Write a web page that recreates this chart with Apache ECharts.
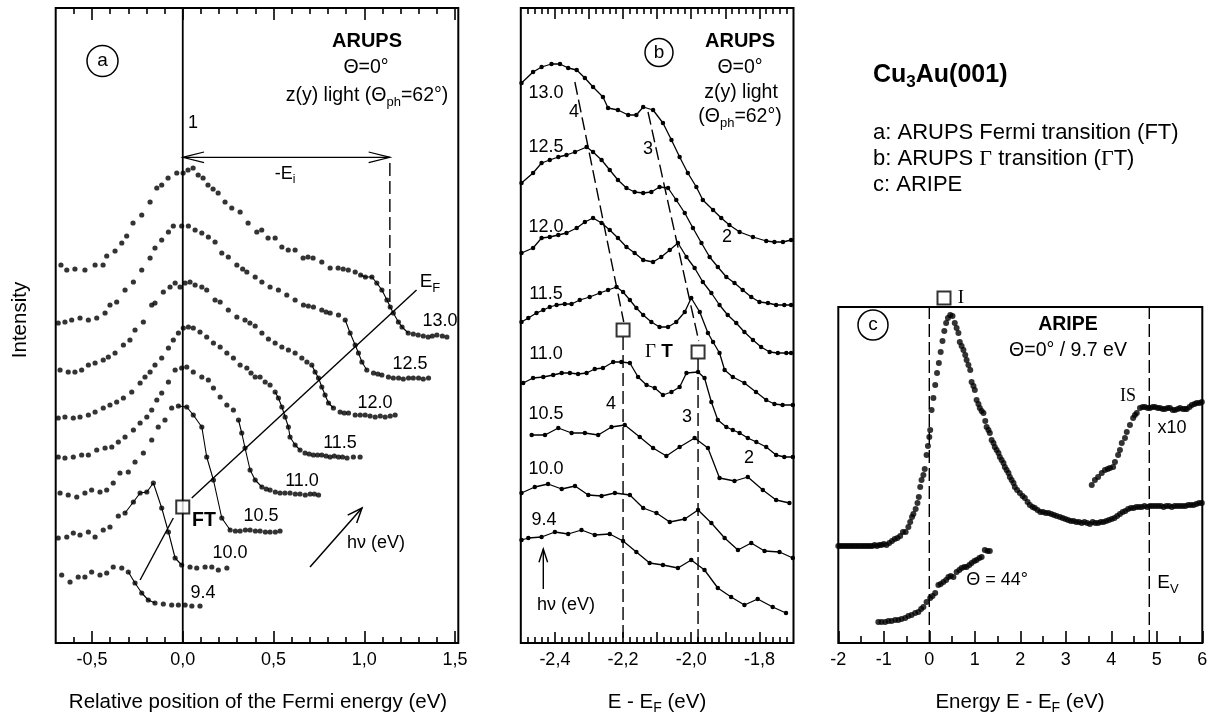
<!DOCTYPE html>
<html><head><meta charset="utf-8">
<script src="https://cdn.jsdelivr.net/npm/echarts@6/dist/echarts.min.js"></script>
<style>html,body{margin:0;padding:0;background:#fff}#c{width:1211px;height:719px}</style>
</head><body><div id="c"></div>
<script>
// ---------------- DATA ----------------
// Panel (a): ARUPS Fermi transition, x = relative position of Fermi energy (eV), y = intensity (arb.)
const aLabels = ['13.0','12.5','12.0','11.5','11.0','10.5','10.0','9.4'];
const a130 = [[-0.671,378],[-0.639,373],[-0.594,374],[-0.539,373],[-0.483,378],[-0.439,378],[-0.419,387],[-0.373,392],[-0.336,400],[-0.309,407],[-0.274,420],[-0.226,428],[-0.180,441],[-0.143,455],[-0.116,458],[-0.081,465],[-0.033,470],[0.002,470],[0.029,473],[0.057,475],[0.085,468],[0.112,465],[0.139,458],[0.167,454],[0.195,450],[0.233,441],[0.270,435],[0.316,431],[0.360,420],[0.408,411],[0.435,413],[0.470,405],[0.509,405],[0.546,396],[0.581,393],[0.619,393],[0.663,385],[0.690,386],[0.718,385],[0.766,381],[0.812,375],[0.856,375],[0.884,374],[0.912,373],[0.950,371],[0.980,368],[1.006,366],[1.042,366],[1.069,360],[1.097,353],[1.125,343],[1.143,336],[1.160,330],[1.188,321],[1.208,316],[1.242,310],[1.270,309],[1.297,308],[1.325,307],[1.352,306],[1.375,307],[1.400,308],[1.430,307],[1.455,306]];
const a125 = [[-0.686,320],[-0.649,321],[-0.612,323],[-0.566,325],[-0.520,323],[-0.474,325],[-0.428,330],[-0.401,338],[-0.364,341],[-0.318,353],[-0.272,361],[-0.226,373],[-0.180,385],[-0.153,395],[-0.116,403],[-0.079,411],[-0.052,417],[-0.006,417],[0.031,417],[0.068,413],[0.105,410],[0.141,406],[0.178,401],[0.215,390],[0.251,386],[0.298,378],[0.330,374],[0.353,371],[0.399,366],[0.436,361],[0.481,356],[0.527,353],[0.573,348],[0.619,343],[0.665,338],[0.692,337],[0.720,336],[0.766,333],[0.790,331],[0.812,330],[0.858,328],[0.895,323],[0.922,310],[0.950,298],[0.968,290],[0.987,281],[1.014,273],[1.051,270],[1.075,269],[1.097,268],[1.133,266],[1.160,265],[1.189,265],[1.215,264],[1.244,265],[1.270,265],[1.299,265],[1.325,264],[1.354,265]];
const a120 = [[-0.676,273],[-0.631,271],[-0.594,271],[-0.557,273],[-0.520,278],[-0.483,280],[-0.438,283],[-0.410,286],[-0.373,290],[-0.327,298],[-0.291,303],[-0.263,313],[-0.217,321],[-0.171,338],[-0.153,340],[-0.107,351],[-0.070,356],[-0.042,360],[-0.015,356],[0.013,360],[0.040,361],[0.068,358],[0.105,356],[0.132,353],[0.178,343],[0.206,341],[0.251,333],[0.298,326],[0.343,323],[0.370,320],[0.399,317],[0.436,310],[0.472,304],[0.509,300],[0.546,296],[0.582,293],[0.619,290],[0.656,285],[0.684,281],[0.711,278],[0.729,271],[0.748,265],[0.766,256],[0.784,248],[0.803,240],[0.830,235],[0.867,231],[0.890,230],[0.913,230],[0.950,228],[0.978,228],[1.005,228],[1.032,227],[1.060,226],[1.088,227],[1.115,226],[1.143,227],[1.170,228]];
const a115 = [[-0.686,225],[-0.649,226],[-0.603,225],[-0.566,226],[-0.520,228],[-0.483,231],[-0.438,235],[-0.401,238],[-0.364,241],[-0.327,245],[-0.281,251],[-0.235,260],[-0.208,266],[-0.180,271],[-0.153,278],[-0.116,285],[-0.079,295],[-0.052,303],[-0.024,310],[0.003,315],[0.031,316],[0.058,315],[0.095,311],[0.132,306],[0.169,300],[0.206,296],[0.243,290],[0.279,285],[0.316,278],[0.353,275],[0.376,270],[0.399,266],[0.426,266],[0.454,261],[0.481,258],[0.509,251],[0.527,245],[0.546,236],[0.564,226],[0.582,216],[0.591,206],[0.619,198],[0.646,193],[0.674,190],[0.697,189],[0.720,188],[0.743,188],[0.766,188],[0.790,187],[0.812,186],[0.835,187],[0.858,186],[0.880,186],[0.905,185],[0.940,186],[0.977,186]];
const a110 = [[-0.686,186],[-0.649,185],[-0.603,186],[-0.557,188],[-0.520,188],[-0.474,193],[-0.428,195],[-0.391,196],[-0.355,201],[-0.318,206],[-0.272,213],[-0.235,220],[-0.198,226],[-0.171,233],[-0.143,243],[-0.116,250],[-0.079,261],[-0.042,273],[-0.006,275],[0.022,276],[0.058,271],[0.105,266],[0.141,263],[0.169,255],[0.206,246],[0.243,238],[0.279,233],[0.307,223],[0.325,210],[0.343,195],[0.371,173],[0.399,163],[0.436,156],[0.460,154],[0.481,153],[0.510,151],[0.536,150],[0.563,150],[0.591,150],[0.620,149],[0.646,149],[0.675,148],[0.702,149],[0.725,149],[0.748,148]];
const a105 = [[-0.676,150],[-0.631,148],[-0.584,146],[-0.539,150],[-0.502,153],[-0.456,151],[-0.419,153],[-0.383,160],[-0.346,170],[-0.300,171],[-0.263,181],[-0.217,190],[-0.171,203],[-0.135,216],[-0.098,223],[-0.061,235],[-0.024,237],[0.022,236],[0.058,228],[0.105,216],[0.132,186],[0.169,163],[0.215,125],[0.261,113],[0.290,112],[0.316,112],[0.345,113],[0.371,113],[0.400,112],[0.426,112],[0.455,111],[0.481,111],[0.510,111],[0.536,112]];
const a100 = [[-0.686,105],[-0.639,106],[-0.603,110],[-0.566,108],[-0.520,111],[-0.483,106],[-0.438,113],[-0.401,116],[-0.355,127],[-0.318,130],[-0.272,141],[-0.235,150],[-0.198,151],[-0.162,160],[-0.116,135],[-0.079,111],[-0.042,85],[-0.006,78],[0.040,76],[0.077,75],[0.123,76],[0.160,76],[0.196,73],[0.243,75]];
const a94 = [[-0.667,68],[-0.621,61],[-0.576,66],[-0.539,66],[-0.502,71],[-0.456,68],[-0.419,70],[-0.383,76],[-0.336,75],[-0.300,71],[-0.263,60],[-0.226,50],[-0.190,43],[-0.153,40],[-0.107,39],[-0.061,38],[-0.024,38],[0.013,38],[0.050,37],[0.095,37]];
const aCurves = [a130,a125,a120,a115,a110,a105,a100,a94];
// energy ranges where the Fermi edge dots are joined by a line
const aEdgeRanges = [[0.98,1.25],[0.87,1.03],[0.70,0.84],[0.50,0.65],[0.28,0.44],[-0.03,0.27],[-0.33,0.0],[-0.31,-0.15]];

// Panel (b): ARUPS Gamma transition, x = E - EF (eV)
const bLabels = ['13.0','12.5','12.0','11.5','11.0','10.5','10.0','9.4'];
const b130 = [[-2.498,560],[-2.464,571],[-2.439,576],[-2.410,579],[-2.385,579],[-2.361,575],[-2.336,573],[-2.312,565],[-2.288,556],[-2.259,546],[-2.244,535],[-2.215,533],[-2.185,528],[-2.161,528],[-2.141,536],[-2.112,533],[-2.083,520],[-2.058,503],[-2.034,486],[-2.010,470],[-1.985,456],[-1.966,443],[-1.936,433],[-1.912,425],[-1.888,418],[-1.858,411],[-1.819,406],[-1.780,402],[-1.756,401],[-1.731,401],[-1.707,403]];
const b125 = [[-2.498,460],[-2.464,470],[-2.439,480],[-2.415,483],[-2.390,486],[-2.366,488],[-2.341,491],[-2.307,496],[-2.288,491],[-2.263,483],[-2.239,473],[-2.215,463],[-2.190,455],[-2.166,451],[-2.141,450],[-2.117,451],[-2.093,456],[-2.068,455],[-2.044,443],[-2.019,430],[-1.995,415],[-1.970,400],[-1.946,386],[-1.922,376],[-1.897,366],[-1.873,360],[-1.849,353],[-1.824,346],[-1.800,341],[-1.775,340],[-1.751,338],[-1.727,338],[-1.707,338]];
const b120 = [[-2.498,390],[-2.464,395],[-2.439,405],[-2.415,406],[-2.390,408],[-2.366,410],[-2.336,415],[-2.312,421],[-2.288,425],[-2.263,420],[-2.239,413],[-2.215,405],[-2.190,396],[-2.166,390],[-2.141,383],[-2.112,381],[-2.088,386],[-2.063,393],[-2.039,400],[-2.014,386],[-1.990,375],[-1.966,361],[-1.941,350],[-1.917,338],[-1.893,328],[-1.868,320],[-1.844,311],[-1.819,303],[-1.795,296],[-1.770,291],[-1.746,290],[-1.721,290],[-1.707,290]];
const b115 = [[-2.498,321],[-2.478,325],[-2.454,330],[-2.434,333],[-2.415,336],[-2.395,338],[-2.371,339],[-2.351,339],[-2.327,343],[-2.298,346],[-2.268,350],[-2.244,353],[-2.219,356],[-2.200,351],[-2.180,343],[-2.161,335],[-2.141,328],[-2.117,321],[-2.093,316],[-2.068,316],[-2.044,321],[-2.019,331],[-2.000,345],[-1.975,331],[-1.951,310],[-1.936,301],[-1.917,290],[-1.902,273],[-1.878,266],[-1.844,260],[-1.810,251],[-1.780,243],[-1.756,239],[-1.732,238],[-1.702,238]];
const b110 = [[-2.493,260],[-2.464,265],[-2.434,266],[-2.405,268],[-2.380,270],[-2.356,270],[-2.332,269],[-2.307,270],[-2.283,274],[-2.259,275],[-2.229,281],[-2.205,281],[-2.180,280],[-2.156,266],[-2.131,258],[-2.107,255],[-2.083,248],[-2.058,251],[-2.034,256],[-2.014,270],[-1.980,271],[-1.961,265],[-1.941,241],[-1.922,223],[-1.897,216],[-1.878,213],[-1.858,210],[-1.834,205],[-1.809,201],[-1.780,196],[-1.751,188],[-1.727,186],[-1.702,186]];
const b105 = [[-2.468,208],[-2.429,208],[-2.390,215],[-2.351,210],[-2.312,210],[-2.273,208],[-2.234,216],[-2.195,218],[-2.151,206],[-2.112,195],[-2.073,187],[-2.034,196],[-1.990,205],[-1.951,195],[-1.917,165],[-1.873,162],[-1.834,166],[-1.790,153],[-1.751,143],[-1.712,140]];
const b100 = [[-2.498,150],[-2.459,156],[-2.420,159],[-2.380,154],[-2.341,157],[-2.302,148],[-2.263,147],[-2.224,150],[-2.180,148],[-2.141,135],[-2.102,130],[-2.063,121],[-2.019,124],[-1.980,133],[-1.941,120],[-1.902,105],[-1.863,93],[-1.824,100],[-1.785,92],[-1.741,91],[-1.702,85]];
const b94 = [[-2.498,103],[-2.478,105],[-2.439,106],[-2.400,111],[-2.361,109],[-2.322,113],[-2.283,108],[-2.239,109],[-2.200,102],[-2.161,91],[-2.122,80],[-2.083,78],[-2.039,75],[-2.000,83],[-1.961,73],[-1.922,55],[-1.883,46],[-1.844,38],[-1.805,44],[-1.761,36],[-1.722,30]];
const bCurves = [b130,b125,b120,b115,b110,b105,b100,b94];

// Panel (c): ARIPE, x = Energy E - EF (eV)
const cNormal = [[-2.00,97],[-1.95,97],[-1.90,97],[-1.85,97],[-1.80,97],[-1.75,97],[-1.70,97],[-1.65,97],[-1.60,97],[-1.55,97],[-1.50,97],[-1.45,97],[-1.40,97],[-1.35,97],[-1.30,97],[-1.25,97],[-1.20,98],[-1.15,97],[-1.10,98],[-1.05,98],[-1.00,99],[-0.94,98],[-0.88,100],[-0.82,102],[-0.76,104],[-0.70,105],[-0.64,107],[-0.58,111],[-0.52,111],[-0.46,116],[-0.42,121],[-0.38,126],[-0.35,129],[-0.30,134],[-0.26,140],[-0.23,146],[-0.20,156],[-0.17,163],[-0.13,168],[-0.10,174],[-0.06,188],[-0.03,197],[0.00,206],[0.02,213],[0.05,233],[0.09,245],[0.13,258],[0.17,270],[0.21,280],[0.25,291],[0.29,302],[0.33,312],[0.37,320],[0.41,325],[0.46,328],[0.51,327],[0.56,320],[0.60,315],[0.64,310],[0.67,301],[0.71,297],[0.75,293],[0.79,288],[0.82,283],[0.86,278],[0.90,273],[0.93,261],[0.97,257],[1.00,253],[1.04,243],[1.08,239],[1.11,235],[1.15,232],[1.19,230],[1.23,222],[1.26,216],[1.30,213],[1.33,210],[1.37,203],[1.41,200],[1.44,196],[1.48,193],[1.52,190],[1.55,186],[1.59,183],[1.63,180],[1.66,176],[1.70,173],[1.74,170],[1.77,166],[1.81,163],[1.85,160],[1.88,156],[1.93,153],[1.99,150],[2.05,147],[2.10,145],[2.16,141],[2.21,138],[2.27,136],[2.32,135],[2.38,133],[2.44,131],[2.50,131],[2.56,130],[2.62,130],[2.68,129],[2.74,128],[2.80,127],[2.87,126],[2.93,125],[2.99,124],[3.05,123],[3.11,122],[3.17,122],[3.23,121],[3.29,121],[3.35,120],[3.41,121],[3.47,120],[3.53,119],[3.59,121],[3.65,120],[3.71,120],[3.77,121],[3.83,121],[3.89,122],[3.95,123],[4.01,124],[4.07,125],[4.13,127],[4.19,129],[4.25,131],[4.31,132],[4.37,134],[4.43,135],[4.49,135],[4.55,136],[4.61,136],[4.67,136],[4.73,137],[4.79,136],[4.85,137],[4.91,137],[4.97,137],[5.03,137],[5.09,137],[5.15,136],[5.21,137],[5.27,137],[5.33,136],[5.39,137],[5.45,137],[5.51,137],[5.57,137],[5.63,137],[5.69,138],[5.75,138],[5.81,138],[5.87,139],[5.93,140],[5.99,140]];
const cImageStateX10 = [[3.57,158],[3.64,163],[3.71,166],[3.79,170],[3.86,173],[3.92,174],[3.97,175],[4.04,176],[4.08,181],[4.15,188],[4.19,193],[4.23,200],[4.30,205],[4.34,211],[4.41,218],[4.48,225],[4.52,228],[4.56,230],[4.63,235],[4.69,236],[4.74,236],[4.80,235],[4.85,235],[4.91,236],[4.96,236],[5.02,235],[5.07,235],[5.13,234],[5.18,234],[5.24,235],[5.29,235],[5.35,233],[5.40,233],[5.46,234],[5.51,235],[5.57,234],[5.62,234],[5.66,234],[5.72,236],[5.77,238],[5.83,239],[5.88,240],[5.94,240],[5.99,241]];
const cTheta44 = [[-1.12,21],[-1.05,21],[-0.97,21],[-0.90,22],[-0.83,22],[-0.75,23],[-0.68,23],[-0.61,24],[-0.53,25],[-0.46,27],[-0.39,28],[-0.31,30],[-0.24,31],[-0.18,34],[-0.13,36],[-0.06,41],[0.02,45],[0.07,47],[0.13,50],[0.20,58],[0.25,59],[0.31,61],[0.37,63],[0.42,66],[0.47,67],[0.53,66],[0.60,71],[0.66,73],[0.71,75],[0.77,76],[0.82,76],[0.88,78],[0.93,80],[0.99,82],[1.04,83],[1.10,85],[1.15,86],[1.22,93],[1.28,92],[1.33,92]];

// Tick values
const aMajorTicks = [-0.5,0,0.5,1,1.5];
const aMinorTicks = [-0.6,-0.4,-0.3,-0.2,-0.1,0.1,0.2,0.3,0.4,0.6,0.7,0.8,0.9,1.1,1.2,1.3,1.4];
const bLabelTicks = [-2.4,-2.2,-2.0,-1.8];
const bMajorTicks = [-2.4,-2.3,-2.2,-2.1,-2.0,-1.9,-1.8];
const bMinorTicks = [-2.48,-2.46,-2.44,-2.42,-2.38,-2.36,-2.34,-2.32,-2.28,-2.26,-2.24,-2.22,-2.18,-2.16,-2.14,-2.12,-2.08,-2.06,-2.04,-2.02,-1.98,-1.96,-1.94,-1.92,-1.88,-1.86,-1.84,-1.82,-1.78,-1.76,-1.74,-1.72];
const cMajorTicks = [-2,-1,0,1,2,3,4,5,6];
const cMinorTicks = [-1.5,-0.5,0.5,1.5,2.5,3.5,4.5,5.5];

// Annotation geometry in data units
const annA = {zeroLine:[[0,0],[0,635]], eiDash:[[1.141,480],[1.141,335]], efLow:[[-0.235,63],[-0.052,125]], efHigh:[[0.0495,145],[1.288,353]], ftSquare:[[0,136]]};
const annB = {line4:[[-2.3414,561],[-2.198,321]], vert4:[[-2.2,306],[-2.2,0]], line3:[[-2.1268,531],[-1.978,302]], vert3:[[-1.98,284],[-1.98,0]], squares:[[-2.2,313],[-1.98,291]]};
const annC = {ef:[[0,0],[0,336]], ev:[[4.835,0],[4.835,336]], square:[[0.323,345]]};

// ---------------- CHART ----------------
const SANS = '"Liberation Sans", Arial, Helvetica, sans-serif';
const SERIF = '"Liberation Serif", "Times New Roman", serif';
const chart = echarts.init(document.getElementById('c'));

function fmtComma(v){ if (Math.abs(v)<1e-9) v=0; return v.toFixed(1).replace('.', ','); }
function xAx(grid, min, max, pos, ticks, len, labelVals, fmt){
  return {type:'value', gridIndex:grid, min:min, max:max, position:pos,
    axisLine:{show:false}, splitLine:{show:false},
    axisTick:{show:true, inside:true, length:len, customValues:ticks, lineStyle:{color:'#000', width:1.6}},
    axisLabel: labelVals ? {show:true, customValues:labelVals, formatter:fmt, color:'#000', fontSize:18, fontFamily:SANS, margin:8} : {show:false}
  };
}
const xAxes = [
  xAx(0,-0.7,1.518,'bottom',aMajorTicks,12,aMajorTicks,fmtComma),
  xAx(0,-0.7,1.518,'bottom',aMinorTicks,6),
  xAx(0,-0.7,1.518,'top',aMajorTicks,12),
  xAx(0,-0.7,1.518,'top',aMinorTicks,6),
  xAx(1,-2.5,-1.7,'bottom',bMajorTicks,11,bLabelTicks,fmtComma),
  xAx(1,-2.5,-1.7,'bottom',bMinorTicks,6),
  xAx(1,-2.5,-1.7,'top',bMajorTicks,11),
  xAx(1,-2.5,-1.7,'top',bMinorTicks,6),
  xAx(2,-2,6,'bottom',cMajorTicks,12,cMajorTicks,v=>String(v)),
  xAx(2,-2,6,'bottom',cMinorTicks,7)
];
const gridBase = {show:true, borderColor:'#000', borderWidth:2, backgroundColor:'transparent'};
const grids = [
  Object.assign({left:55.7, top:8, width:402.6, height:635}, gridBase),
  Object.assign({left:520.8, top:8, width:272.7, height:635}, gridBase),
  Object.assign({left:838.3, top:307, width:364, height:336}, gridBase)
];
const yAxes = [
  {type:'value', gridIndex:0, min:0, max:635, show:false},
  {type:'value', gridIndex:1, min:0, max:635, show:false},
  {type:'value', gridIndex:2, min:0, max:336, show:false}
];

const series = [];
function seg(xi, yi, pts, dashed, w){
  series.push({type:'line', xAxisIndex:xi, yAxisIndex:yi, data:pts, symbol:'none', silent:true, clip:false, z:3,
    lineStyle:{color:'#000', width:w||1.4, type: dashed ? [13,5] : 'solid'}});
}
function squares(xi, yi, pts){
  series.push({type:'scatter', xAxisIndex:xi, yAxisIndex:yi, data:pts, symbol:'rect', symbolSize:13, silent:true, clip:false, z:6,
    itemStyle:{color:'#fff', borderColor:'#000', borderWidth:2}});
}
// panel a
aCurves.forEach((c,i)=>{
  series.push({type:'scatter', xAxisIndex:0, yAxisIndex:0, data:c, symbolSize:5.2, silent:true, clip:false, itemStyle:{color:'#000'}, z:4});
  const r = aEdgeRanges[i];
  series.push({type:'line', xAxisIndex:0, yAxisIndex:0, data:c.filter(p=>p[0]>=r[0]&&p[0]<=r[1]), symbol:'none', silent:true,
    lineStyle:{color:'#000', width:1.1}, z:3});
});
seg(0,0,annA.zeroLine,false,1.8);
seg(0,0,annA.eiDash,true,1.4);
seg(0,0,annA.efLow,false,1.4);
seg(0,0,annA.efHigh,false,1.4);
squares(0,0,annA.ftSquare);
// panel b
bCurves.forEach(c=>{
  series.push({type:'line', xAxisIndex:4, yAxisIndex:1, data:c, symbol:'circle', symbolSize:4.5, showSymbol:true, silent:true,
    lineStyle:{color:'#000', width:1.3}, itemStyle:{color:'#000'}, z:4});
});
seg(4,1,annB.line4,true,1.4);
seg(4,1,annB.vert4,true,1.4);
seg(4,1,annB.line3,true,1.4);
seg(4,1,annB.vert3,true,1.4);
squares(4,1,annB.squares);
// panel c
[cNormal, cImageStateX10, cTheta44].forEach(c=>{
  series.push({type:'scatter', xAxisIndex:8, yAxisIndex:2, data:c, symbolSize:6, silent:true, clip:false, itemStyle:{color:'#000'}, z:4});
});
seg(8,2,annC.ef,true,1.4);
seg(8,2,annC.ev,true,1.4);
squares(8,2,annC.square);

// ---------------- TEXT & DECORATION (pixel layout) ----------------
function rich(fs){
  const s = Math.round(fs*0.68);
  return {
    n:{fontSize:fs, fontFamily:SANS, lineHeight:fs+6, fill:'#000'},
    s:{fontSize:s, fontFamily:SANS, lineHeight:s, verticalAlign:'bottom', fill:'#000'},
    b:{fontSize:fs, fontFamily:SANS, fontWeight:'bold', lineHeight:fs+6, fill:'#000'},
    bs:{fontSize:s, fontFamily:SANS, fontWeight:'bold', lineHeight:s, verticalAlign:'bottom', fill:'#000'},
    g:{fontSize:fs, fontFamily:SERIF, lineHeight:fs+6, fill:'#000'}
  };
}
const G = [];
function T(x, y, text, fs, opt){
  opt = opt || {};
  G.push({type:'text', x:x, y:y, rotation:opt.rot||0, silent:true, z:100,
    style:{text:text, fill:'#000', fontSize:fs, fontFamily:opt.ff||SANS, fontWeight:opt.fw||'normal',
      align:opt.al||'center', verticalAlign:'middle', rich:rich(fs)}});
}
function circ(cx, cy, r, letter){
  G.push({type:'circle', shape:{cx:cx, cy:cy, r:r}, silent:true, z:100, style:{fill:'none', stroke:'#000', lineWidth:1.5}});
  T(cx, cy, letter, 19);
}
function pl(points, w){
  G.push({type:'polyline', shape:{points:points}, silent:true, z:100, style:{fill:'none', stroke:'#000', lineWidth:w||1.3}});
}
function arrowHead(tip, tail, len, ang){
  const dx=tail[0]-tip[0], dy=tail[1]-tip[1], L=Math.hypot(dx,dy), ux=dx/L, uy=dy/L, a=ang*Math.PI/180;
  const r=(c,s)=>[tip[0]+len*(ux*c-uy*s), tip[1]+len*(ux*s+uy*c)];
  return [r(Math.cos(a),Math.sin(a)), tip, r(Math.cos(a),-Math.sin(a))];
}
// axis titles
T(258, 702, 'Relative position of the Fermi energy (eV)', 20.5);
T(657, 702, '{n|E - E}{s|F}{n| (eV)}', 20.5);
T(1020, 702, '{n|Energy E - E}{s|F}{n| (eV)}', 20.5);
T(20, 320, 'Intensity', 20.5, {rot:Math.PI/2});
// panel a texts
circ(102.5, 61, 15.5, 'a');
T(367, 41, 'ARUPS', 20, {fw:'bold'});
T(366, 68, 'Θ=0°', 19.5);
T(367, 96, '{n|z(y) light (Θ}{s|ph}{n|=62°)}', 19.5);
T(193, 123, '1', 18);
T(285, 174, '{n|-E}{s|i}', 18);
T(430, 282, '{n|E}{s|F}', 19);
T(204, 521, 'FT', 19.5, {fw:'bold'});
T(376, 543, 'hν (eV)', 18);
const aLabelPos = [[440,321],[410,364],[375,403],[340,443],[302,481],[261,516],[230,553],[203,593]];
aLabels.forEach((t,i)=>T(aLabelPos[i][0], aLabelPos[i][1], t, 18));
// -E_i double arrow
pl([[182.7,157.3],[390,157.3]], 1.2);
pl(arrowHead([182.7,157.3],[390,157.3],22,14), 1.2);
pl(arrowHead([390,157.3],[182.7,157.3],22,14), 1.2);
// h nu arrow (a)
pl([[310,567],[362,508]], 1.5);
pl(arrowHead([362,508],[310,567],16,22), 1.5);
// panel b texts
circ(659, 52.5, 14, 'b');
T(740, 41, 'ARUPS', 20, {fw:'bold'});
T(740, 68, 'Θ=0°', 19.5);
T(741, 93, 'z(y) light', 19.5);
T(740, 117, '{n|(Θ}{s|ph}{n|=62°)}', 19.5);
const bLabelPos = [[546,93],[546,147],[546,227],[546,294],[546,354],[546,414],[546,469],[544,520]];
bLabels.forEach((t,i)=>T(bLabelPos[i][0], bLabelPos[i][1], t, 18));
T(574,112,'4',18); T(648,149,'3',18); T(727,237,'2',18);
T(611,404,'4',18); T(687,417,'3',18); T(749,458,'2',18);
T(659, 352, '{g|Γ} {b|T}', 19);
T(566, 605, 'hν (eV)', 18);
pl([[543.3,589],[543.3,549]], 1.4);
pl(arrowHead([543.3,549],[543.3,589],14,18), 1.4);
// panel c texts
circ(873, 325, 15, 'c');
T(1068, 325, 'ARIPE', 19.5, {fw:'bold'});
T(1068, 351, 'Θ=0° / 9.7 eV', 19.5);
T(961, 298, 'I', 19, {ff:SERIF});
T(1128, 396, 'IS', 18, {ff:SERIF});
T(1172, 428, 'x10', 18);
T(997, 580, 'Θ = 44°', 18);
T(1168, 583, '{n|E}{s|V}', 19);
// header
T(873, 75, '{b|Cu}{bs|3}{b|Au(001)}', 25, {al:'left'});
T(873, 133, 'a: ARUPS Fermi transition (FT)', 22, {al:'left'});
T(873, 159, '{n|b: ARUPS }{g|Γ}{n| transition (}{g|Γ}{n|T)}', 22, {al:'left'});
T(873, 185, 'c: ARIPE', 22, {al:'left'});

chart.setOption({
  animation:false,
  backgroundColor:'#fff',
  grid: grids, xAxis: xAxes, yAxis: yAxes, series: series, graphic: G
});
</script></body></html>
